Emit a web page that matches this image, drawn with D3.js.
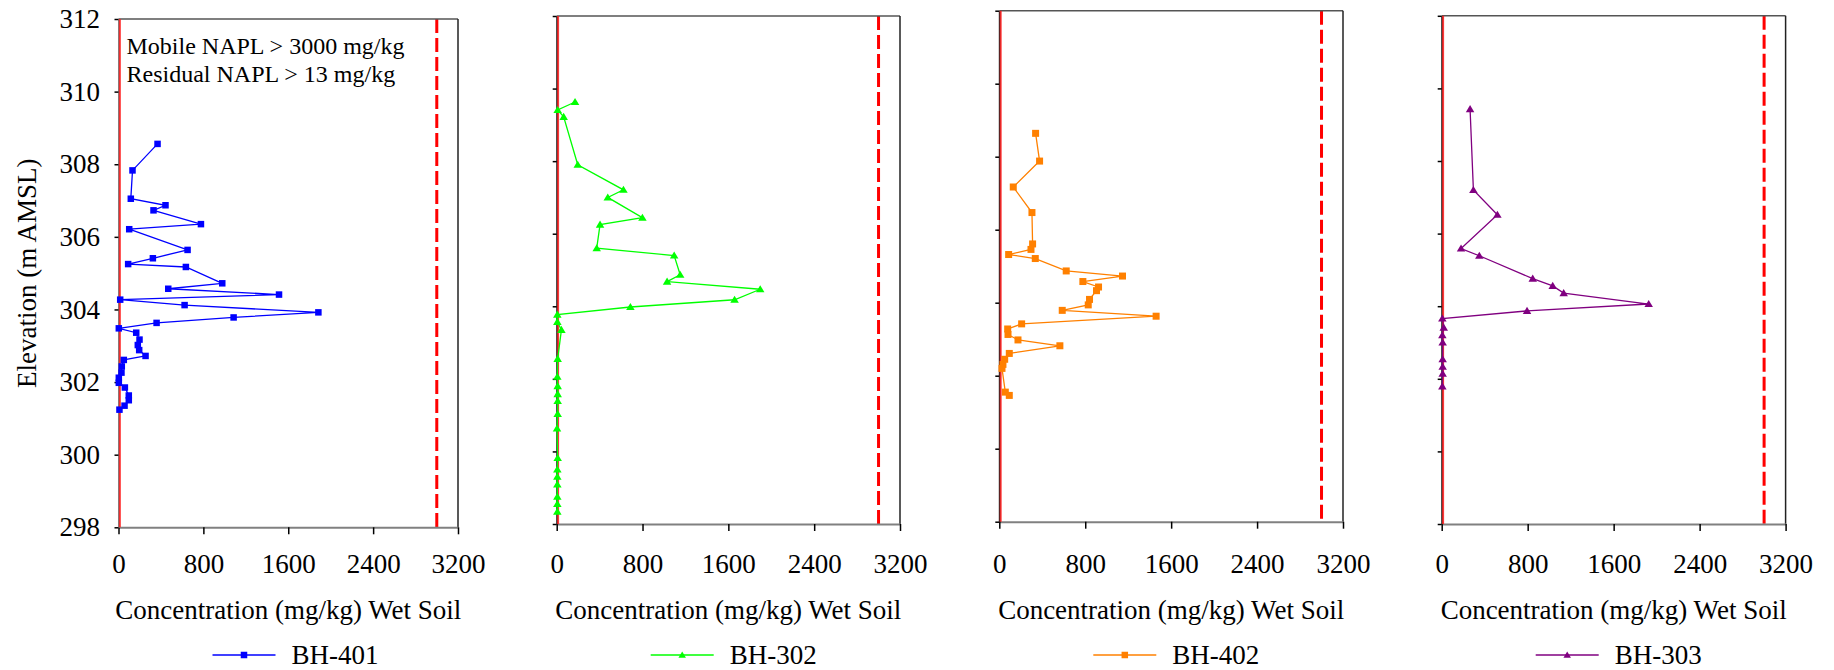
<!DOCTYPE html>
<html>
<head>
<meta charset="utf-8">
<script src="https://cdn.jsdelivr.net/npm/d3@7"></script>
<style>
  html, body { margin: 0; padding: 0; background: #fff; }
  svg { display: block; }
  svg text { font-family: "Liberation Serif", "DejaVu Serif", "Noto Serif", "Times New Roman", Times, serif !important; fill: #000; }
</style>
</head>
<body>
<svg id="chart" width="1834" height="670"></svg>
<script>
// ---------------- DATA ----------------
const xTicks = [0, 800, 1600, 2400, 3200];
const yTicks = [298, 300, 302, 304, 306, 308, 310, 312];
const xDomain = [0, 3200];
const yDomain = [298, 312];
const mobileNAPL = 3000;
const residualNAPL = 13;
const xTitle = "Concentration (mg/kg) Wet Soil";
const yTitle = "Elevation (m AMSL)";
const noteLines = ["Mobile NAPL > 3000 mg/kg", "Residual NAPL > 13 mg/kg"];

const bh401Conc = [368,132,116,443,330,777,101,651,324,91,635,978,469,1513,16,623,1884,1085,359,3,167,198,182,195,255,50,31,28,3,3,60,97,97,57,9];
const bh401Elev = [308.56,307.83,307.05,306.87,306.73,306.35,306.21,305.64,305.41,305.25,305.17,304.72,304.57,304.41,304.27,304.12,303.92,303.78,303.63,303.48,303.36,303.17,303.02,302.88,302.72,302.61,302.43,302.26,302.12,301.98,301.85,301.63,301.50,301.35,301.24];

const bh302Conc = [171,9,65,196,622,476,799,404,373,1095,1151,1029,1897,1658,687,6,6,44,9,6,9,9,9,9,3,9,6,6,6,6,6,6];
const bh302Elev = [309.63,309.41,309.22,307.90,307.21,307.00,306.44,306.25,305.60,305.40,304.87,304.68,304.47,304.18,303.98,303.77,303.57,303.35,302.55,302.06,301.80,301.58,301.39,301.03,300.63,299.82,299.50,299.30,299.09,298.75,298.55,298.34];

const bh402Conc = [338,375,130,304,310,295,87,335,623,1147,778,924,905,840,828,586,1460,208,78,81,174,564,93,50,34,25,56,93];
const bh402Elev = [308.64,307.88,307.17,306.47,305.61,305.46,305.32,305.21,304.87,304.73,304.58,304.43,304.33,304.09,303.94,303.79,303.63,303.42,303.28,303.13,302.98,302.82,302.61,302.45,302.31,302.20,301.55,301.46];

const bh303Conc = [264,295,518,180,350,847,1033,1135,1926,794,6,19,6,9,9,9,9,6];
const bh303Elev = [309.43,307.20,306.52,305.59,305.39,304.76,304.56,304.36,304.06,303.87,303.66,303.41,303.20,303.00,302.54,302.33,302.14,301.79];

const seriesNames = ["BH-401", "BH-302", "BH-402", "BH-303"];
const seriesConc = [bh401Conc, bh302Conc, bh402Conc, bh303Conc];
const seriesElev = [bh401Elev, bh302Elev, bh402Elev, bh303Elev];

// ---------------- STYLE / LAYOUT ----------------
const FONT = '"Liberation Serif", "DejaVu Serif", "Noto Serif", "Times New Roman", Times, serif';
const colors = ["#0000ff", "#00ff00", "#ff8000", "#800080"];
const markers = ["square", "triangle", "square", "triangle"];
const panels = [
  {left: 118.5, right: 458.0, top: 19.0, bottom: 527.3, labels: true},
  {left: 556.7, right: 900.0, top: 16.0, bottom: 524.0, labels: false},
  {left: 999.3, right: 1343.0, top: 10.7, bottom: 521.7, labels: false},
  {left: 1441.7, right: 1785.6, top: 15.8, bottom: 524.0, labels: false}
];
const tickLabelY = 564;
const xTitleY = 610;
const legendY = 655;
const fontSize = 27;

const svg = d3.select("#chart");

function drawMarker(g, type, cx, cy, color, s) {
  if (type === "square") {
    g.append("rect").attr("x", cx - s/2).attr("y", cy - s/2)
      .attr("width", s).attr("height", s).attr("fill", color);
  } else {
    const h = s * 0.9;
    g.append("path")
      .attr("d", `M${cx},${cy - h*0.6}L${cx + s/2 + 0.5},${cy + h*0.45}L${cx - s/2 - 0.5},${cy + h*0.45}Z`)
      .attr("fill", color);
  }
}

panels.forEach((p, i) => {
  const x = d3.scaleLinear().domain(xDomain).range([p.left, p.right]);
  const y = d3.scaleLinear().domain(yDomain).range([p.bottom, p.top]);
  const g = svg.append("g");

  // mobile NAPL threshold (dashed)
  g.append("line")
    .attr("x1", x(mobileNAPL)).attr("x2", x(mobileNAPL))
    .attr("y1", p.top).attr("y2", p.bottom)
    .attr("stroke", "#ff0000").attr("stroke-width", 3)
    .attr("stroke-dasharray", "14,5");

  // frame (top & right)
  g.append("line").attr("x1", p.left).attr("x2", p.right).attr("y1", p.top).attr("y2", p.top)
    .attr("stroke", "#555").attr("stroke-width", 1.5);
  g.append("line").attr("x1", p.right).attr("x2", p.right).attr("y1", p.top).attr("y2", p.bottom)
    .attr("stroke", "#222").attr("stroke-width", 1.5);

  // x axis
  const labelPad = tickLabelY - p.bottom - 7 - fontSize * 0.38;
  const xAxis = d3.axisBottom(x).tickValues(xTicks).tickSize(7).tickSizeOuter(0)
    .tickPadding(labelPad).tickFormat(d3.format("d"));
  const gx = g.append("g").attr("transform", `translate(0,${p.bottom})`).call(xAxis)
    .attr("font-family", FONT).attr("font-size", fontSize);
  gx.select(".domain").attr("stroke", "#808080").attr("stroke-width", 2);
  gx.selectAll(".tick line").attr("stroke", "#000").attr("stroke-width", 1.5);
  gx.selectAll(".tick text").attr("fill", "#000");

  // y axis
  const yAxis = d3.axisLeft(y).tickValues(yTicks).tickSize(4).tickSizeOuter(0)
    .tickPadding(p.left - 4 - 100).tickFormat(p.labels ? d3.format("d") : () => "");
  const gy = g.append("g").attr("transform", `translate(${p.left},0)`).call(yAxis)
    .attr("font-family", FONT).attr("font-size", fontSize);
  gy.select(".domain").attr("stroke", i === 0 ? "#808080" : "#222").attr("stroke-width", 2);
  gy.selectAll(".tick line").attr("stroke", "#000").attr("stroke-width", 1.5);
  gy.selectAll(".tick text").attr("fill", "#000");

  // residual NAPL line
  g.append("line")
    .attr("x1", x(residualNAPL)).attr("x2", x(residualNAPL))
    .attr("y1", p.top).attr("y2", p.bottom)
    .attr("stroke", "#ff2020").attr("stroke-width", 2).attr("stroke-opacity", 0.85);

  // x title
  g.append("text").attr("x", (p.left + p.right) / 2).attr("y", xTitleY)
    .attr("text-anchor", "middle").attr("dominant-baseline", "central")
    .attr("font-family", FONT).attr("font-size", fontSize).text(xTitle);

  // data
  const conc = seriesConc[i], elev = seriesElev[i];
  const pts = conc.map((c, k) => [x(c), y(elev[k])]);
  g.append("path").attr("d", d3.line()(pts)).attr("fill", "none")
    .attr("stroke", colors[i]).attr("stroke-width", 1.3);
  const mg = g.append("g");
  const ms = (i === 2) ? 7 : (markers[i] === "square" ? 6.5 : 7.5);
  pts.forEach(pt => drawMarker(mg, markers[i], pt[0], pt[1], colors[i], ms));

  // legend
  const lx0 = p.left + 94, lx1 = p.left + 157;
  g.append("line").attr("x1", lx0).attr("x2", lx1).attr("y1", legendY).attr("y2", legendY)
    .attr("stroke", colors[i]).attr("stroke-width", 1.5);
  drawMarker(g, markers[i], (lx0 + lx1) / 2, legendY, colors[i], 6.5);
  g.append("text").attr("x", p.left + 173).attr("y", legendY)
    .attr("dominant-baseline", "central").attr("font-family", FONT)
    .attr("font-size", fontSize).text(seriesNames[i]);

  if (i === 0) {
    noteLines.forEach((t, k) => {
      g.append("text").attr("x", p.left + 8).attr("y", 46 + k * 27.5)
        .attr("dominant-baseline", "central").attr("font-family", FONT)
        .attr("font-size", 24).text(t);
    });
  }
});

// y title
svg.append("text")
  .attr("transform", `translate(27,${(panels[0].top + panels[0].bottom) / 2}) rotate(-90)`)
  .attr("text-anchor", "middle").attr("dominant-baseline", "central")
  .attr("font-family", FONT).attr("font-size", fontSize).text(yTitle);
</script>
</body>
</html>
